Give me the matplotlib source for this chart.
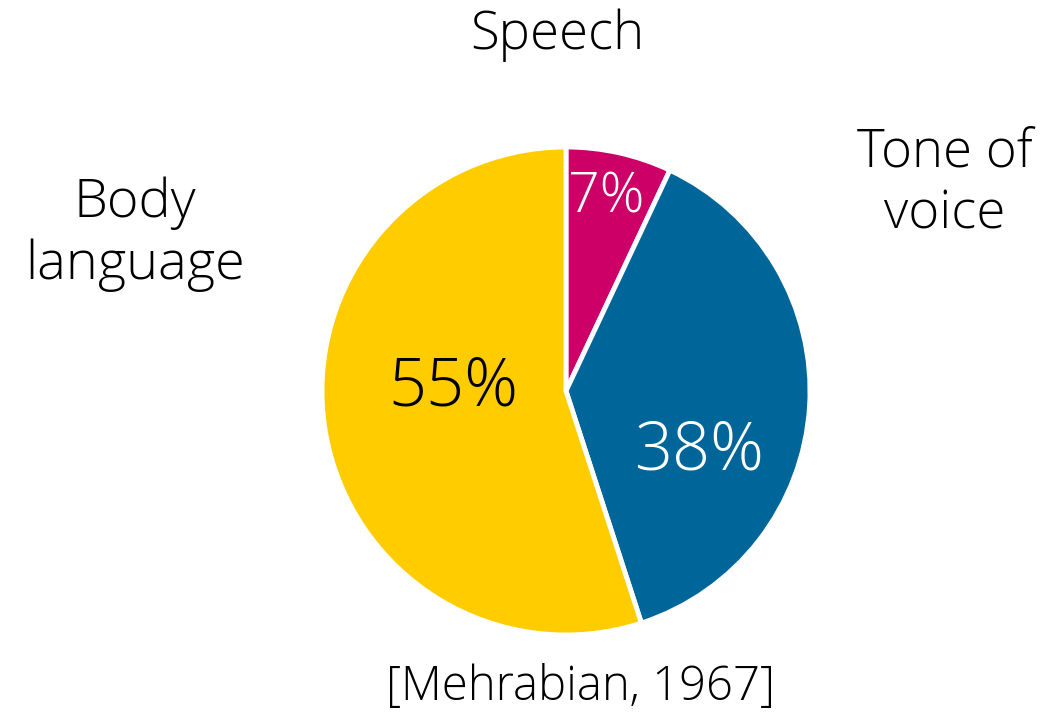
import matplotlib.pyplot as plt

# data
labels = ["Speech", "Tone of\nvoice", "Body\nlanguage"]
shares = [7, 38, 55]
pct_text = ["7%", "38%", "55%"]
colors = ["#CC0066", "#006699", "#FFCC00"]
pct_colors = ["white", "white", "black"]

W, H = 1046, 716
fig = plt.figure(figsize=(W / 100, H / 100), dpi=100)

# pie centre ~ (566, 390) px, radius ~244 px
cx, cy, r = 566, 391, 244
ax = fig.add_axes([(cx - r) / W, (H - cy - r) / H, 2 * r / W, 2 * r / H])
wedges, _ = ax.pie(shares, colors=colors, startangle=90, counterclock=False,
                   radius=1.0, wedgeprops=dict(edgecolor="white", linewidth=3.5))
ax.set_xlim(-1, 1)
ax.set_ylim(-1, 1)
ax.set_aspect("equal")
ax.axis("off")

fam = ["Open Sans", "DejaVu Sans"]

# percent labels inside wedges (pixel positions of text centres)
pct_pos = [(606, 198, 40), (700, 452, 48), (453, 388, 48)]
for t, c, (x, y, fs) in zip(pct_text, pct_colors, pct_pos):
    fig.text(x / W, 1 - y / H, t, color=c, fontsize=fs, ha="center", va="center",
             family=fam, fontweight="light")

# category labels around the pie
lab_pos = [(557, 35, 38), (945, 184, 38), (135, 234, 39)]
for t, (x, y, fs) in zip(labels, lab_pos):
    fig.text(x / W, 1 - y / H, t, fontsize=fs, ha="center", va="center",
             family=fam, fontweight="light", linespacing=1.2)

fig.text(581 / W, 1 - 688 / H, "[Mehrabian, 1967]", fontsize=34, ha="center",
         va="center", family=fam, fontweight="light")

fig.savefig("out.png", dpi=100, facecolor="white")
